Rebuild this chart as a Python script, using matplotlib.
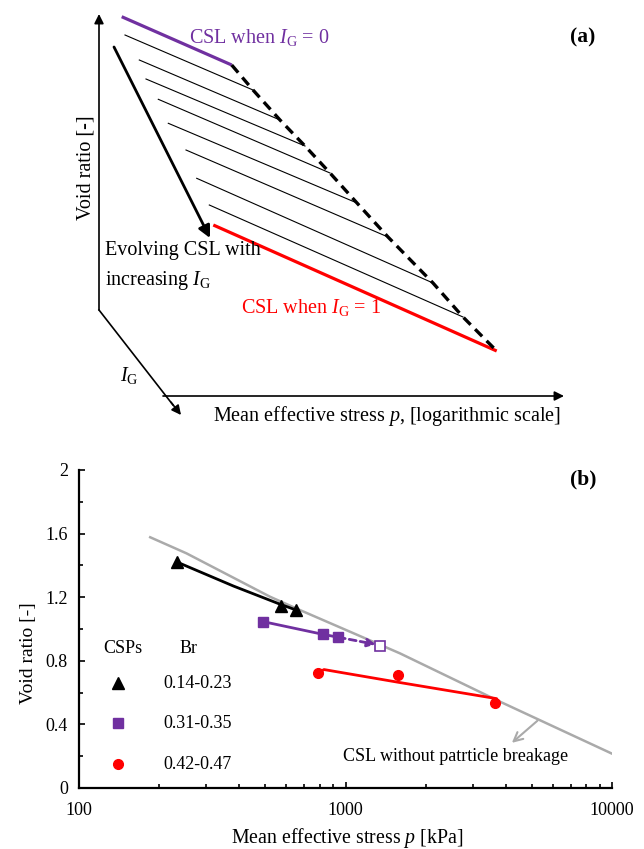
import matplotlib
matplotlib.use('Agg')
import matplotlib.pyplot as plt

plt.rcParams['font.family'] = 'Liberation Serif'
plt.rcParams['mathtext.fontset'] = 'custom'
plt.rcParams['mathtext.rm'] = 'Liberation Serif'
plt.rcParams['mathtext.it'] = 'Liberation Serif:italic'
plt.rcParams['mathtext.bf'] = 'Liberation Serif:bold'

PURPLE = '#7030A0'
RED = '#FF0000'
GREY = '#AAAAAA'

# ---- (a) schematic, drawn in pixel-like units (x right, y down) ----
csl_top = [(121.7, 16.7), (231.7, 65.0)]           # CSL when IG = 0
csl_bottom = [(213.3, 225.0), (496.7, 351.0)]      # CSL when IG = 1
line_starts = [(125, 35), (139.3, 60), (146, 79), (158.3, 99.3),
               (168.3, 123.3), (186, 150), (196.7, 178.3), (209.3, 205)]
line_ends = [(253, 90), (280, 120), (305, 146), (330, 173),
             (357, 203), (388, 237), (433, 283), (463, 317)]
evolve_arrow = [(114, 47), (210, 238)]
axis_origin = (99, 310)
axis_up = (99, 14)
axis_ig = (181, 415)
axis_p = [(163, 396), (564, 396)]

# ---- (b) measured data ----
csl_ref_p = [185, 253, 521, 675, 1600, 3800, 9940]
csl_ref_e = [1.577, 1.476, 1.203, 1.119, 0.847, 0.543, 0.218]

br1_p = [234, 573, 651]
br1_e = [1.42, 1.145, 1.12]
br1_line_p = [234, 380, 560, 651]
br1_line_e = [1.42, 1.27, 1.16, 1.12]

br2_p = [492, 820, 940]
br2_e = [1.046, 0.967, 0.948]
br2_end_p = 1346
br2_end_e = 0.895

br3_p = [791, 1570, 3640]
br3_e = [0.721, 0.711, 0.537]
br3_line_p = [791, 830, 1590, 3690, 3640]
br3_line_e = [0.722, 0.745, 0.664, 0.562, 0.540]

legend_labels = ['0.14-0.23', '0.31-0.35', '0.42-0.47']

fig = plt.figure(figsize=(6.44, 8.49), dpi=100)

ax_a = fig.add_axes([0, 1 - 440 / 849, 1, 440 / 849])
ax_a.set_xlim(0, 644)
ax_a.set_ylim(440, 0)
ax_a.axis('off')

def arrow(ax, start, tip, lw=1.2, ms=14, color='k'):
    ax.annotate('', xy=tip, xytext=start,
                arrowprops=dict(arrowstyle='-|>', lw=lw, color=color,
                                mutation_scale=ms, shrinkA=0, shrinkB=0))

# axes of the schematic
arrow(ax_a, axis_origin, axis_up)
ax_a.plot([axis_origin[0], axis_ig[0] - 8], [axis_origin[1], axis_ig[1] - 10], color='k', lw=1.2)
arrow(ax_a, (axis_ig[0] - 10, axis_ig[1] - 12.8), axis_ig)
arrow(ax_a, axis_p[0], axis_p[1])

# family of CSLs
for (x0, y0), (x1, y1) in zip(line_starts, line_ends):
    ax_a.plot([x0, x1], [y0, y1], color='k', lw=0.8)
ax_a.plot(*zip(*csl_top), color=PURPLE, lw=2.3, solid_capstyle='butt')
ax_a.plot(*zip(*csl_bottom), color=RED, lw=2.3, solid_capstyle='butt')
dash_path = [csl_top[1]] + line_ends + [csl_bottom[1]]
ax_a.plot(*zip(*dash_path), color='k', lw=2.4, linestyle=(0, (3.0, 1.9)))
arrow(ax_a, evolve_arrow[0], evolve_arrow[1], lw=2.0, ms=18)

FS_A = 14.5
ax_a.text(189, 37, r'CSL when $I_{\mathrm{G}}$ = 0', color=PURPLE, fontsize=FS_A, va='center')
ax_a.text(583, 37, '(a)', fontsize=15.5, fontweight='bold', ha='center', va='center')
ax_a.text(86, 168, 'Void ratio [-]', rotation=90, fontsize=FS_A, ha='center', va='center')
ax_a.text(105, 251, 'Evolving CSL with', fontsize=FS_A, va='center')
ax_a.text(105, 280, r'increasing $I_{\mathrm{G}}$', fontsize=FS_A, va='center')
ax_a.text(241, 307, r'CSL when $I_{\mathrm{G}}$ = 1', color=RED, fontsize=FS_A, va='center')
ax_a.text(120, 376, r'$I_{\mathrm{G}}$', fontsize=FS_A, va='center')
ax_a.text(213, 416, r'Mean effective stress $p$, [logarithmic scale]', fontsize=FS_A, va='center')

# ---- (b) ----
ax = fig.add_axes([79 / 644, 61 / 849, 533 / 644, 318 / 849])
ax.set_xscale('log')
ax.set_xlim(100, 10000)
ax.set_ylim(0, 2)
for s in ['top', 'right']:
    ax.spines[s].set_visible(False)
for s in ['left', 'bottom']:
    ax.spines[s].set_linewidth(1.6)

ax.plot(csl_ref_p, csl_ref_e, color=GREY, lw=1.8)

ax.plot(br1_line_p, br1_line_e, color='k', lw=2.0)
ax.plot(br1_p, br1_e, '^', color='k', ms=8.5, ls='none')

ax.plot(br2_p, br2_e, color=PURPLE, lw=2.0)
ax.plot(br2_p, br2_e, 's', color=PURPLE, ms=7, ls='none')
ax.annotate('', xy=(br2_end_p * 0.965, br2_end_e + 0.008), xytext=(br2_p[-1], br2_e[-1]),
            arrowprops=dict(arrowstyle='-|>', lw=2.0, color=PURPLE, linestyle=(0, (2.5, 1.5)),
                            mutation_scale=12, shrinkA=0, shrinkB=0))
ax.plot([br2_end_p], [br2_end_e], 's', mfc='white', mec=PURPLE, mew=1.2, ms=7.5)

ax.plot(br3_line_p, br3_line_e, color=RED, lw=2.0)
ax.plot(br3_p, br3_e, 'o', color=RED, ms=7, ls='none')

ax.annotate('', xy=(4210, 0.284), xytext=(5250, 0.423),
            arrowprops=dict(arrowstyle='->', lw=1.5, color=GREY, mutation_scale=16,
                            shrinkA=0, shrinkB=0))
ax.text(2578, 0.197, 'CSL without patrticle breakage', fontsize=13, ha='center', va='center')

ax.text(0.946, 0.969, '(b)', transform=ax.transAxes, fontsize=15.5, fontweight='bold',
        ha='center', va='center')

# legend block
ax.text(0.083, 0.44, 'CSPs', transform=ax.transAxes, fontsize=13, ha='center', va='center')
ax.text(0.205, 0.44, 'Br', transform=ax.transAxes, fontsize=13, ha='center', va='center')
for yy, mk, col, lab in zip([0.330, 0.204, 0.075], ['^', 's', 'o'], ['k', PURPLE, RED], legend_labels):
    ax.plot([0.073], [yy], mk, color=col, ms=8 if mk == '^' else 7, transform=ax.transAxes,
            clip_on=False)
    ax.text(0.158, yy, lab, transform=ax.transAxes, fontsize=13, va='center')

ax.set_yticks([0, 0.4, 0.8, 1.2, 1.6, 2.0])
ax.set_yticklabels(['0', '0.4', '0.8', '1.2', '1.6', '2'])
ax.set_yticks([0.2, 0.6, 1.0, 1.4, 1.8], minor=True)
ax.set_xticks([100, 1000, 10000])
ax.set_xticklabels(['100', '1000', '10000'])
ax.tick_params(which='both', direction='in', width=1.2, labelsize=13)
ax.tick_params(which='major', length=4)
ax.tick_params(which='minor', length=3)
ax.tick_params(axis='y', pad=8)
ax.tick_params(axis='x', pad=10)

ax.set_xlabel(r'Mean effective stress $p$ [kPa]', fontsize=14.3)
ax.set_ylabel('Void ratio [-]', fontsize=14)
ax.xaxis.set_label_coords(0.504, -0.12)
ax.yaxis.set_label_coords(-0.078, 0.425)

fig.savefig('out.png', dpi=100)
